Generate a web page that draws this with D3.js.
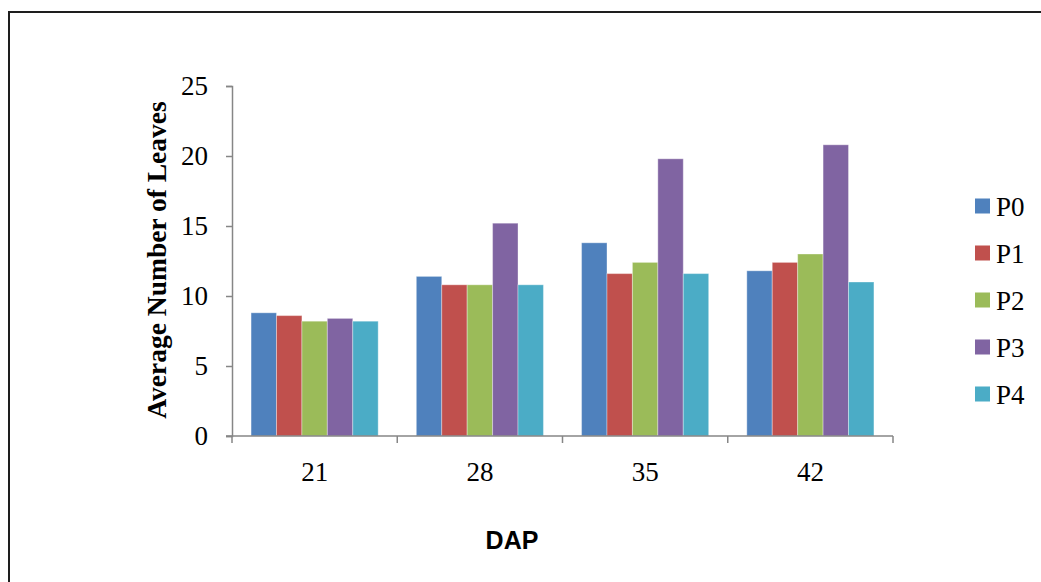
<!DOCTYPE html>
<html>
<head>
<meta charset="utf-8">
<script src="https://cdn.jsdelivr.net/npm/d3@7"></script>
<style>
  html, body { margin: 0; padding: 0; background: #fff; }
  svg { display: block; }
</style>
</head>
<body>
<svg id="chart" width="1041" height="582"></svg>
<script>
// Days after planting (DAP) and average leaf counts per treatment
const categories = ["21", "28", "35", "42"];
const seriesNames = ["P0", "P1", "P2", "P3", "P4"];
const P0 = [8.8, 11.4, 13.8, 11.8];
const P1 = [8.6, 10.8, 11.6, 12.4];
const P2 = [8.2, 10.8, 12.4, 13.0];
const P3 = [8.4, 15.2, 19.8, 20.8];
const P4 = [8.2, 10.8, 11.6, 11.0];
const yTicks = [0, 5, 10, 15, 20, 25];
const colors = ["#4F81BD", "#C0504D", "#9BBB59", "#8064A2", "#4BACC6"];

const seriesValues = [P0, P1, P2, P3, P4];

const svg = d3.select("#chart");
const axisColor = "#868686";
const serif = "'Liberation Serif', 'Times New Roman', serif";

// outer frame
svg.append("rect")
  .attr("x", 9).attr("y", 12)
  .attr("width", 1100).attr("height", 700)
  .attr("fill", "none")
  .attr("stroke", "#1e1e1e")
  .attr("stroke-width", 2);

const plot = { left: 232, right: 893, top: 86, bottom: 436 };

const x0 = d3.scaleBand()
  .domain(categories)
  .range([plot.left, plot.right])
  .paddingInner(0).paddingOuter(0);

const x1 = d3.scaleBand()
  .domain(seriesNames)
  .range([0, x0.bandwidth()])
  .paddingInner(0).paddingOuter(0.75);

const y = d3.scaleLinear().domain([0, 25]).range([plot.bottom, plot.top]);

// bars
const groups = svg.append("g").selectAll("g")
  .data(categories)
  .join("g")
  .attr("transform", d => `translate(${x0(d)},0)`);

groups.selectAll("rect")
  .data((c, i) => seriesNames.map((s, k) => ({ s, v: seriesValues[k][i], k })))
  .join("rect")
  .attr("x", d => x1(d.s))
  .attr("y", d => y(d.v))
  .attr("width", x1.bandwidth())
  .attr("height", d => y(0) - y(d.v))
  .attr("fill", d => colors[d.k])
  .attr("stroke", "#ffffff")
  .attr("stroke-opacity", 0.35)
  .attr("stroke-width", 1);

// y axis
const yAxis = svg.append("g")
  .attr("transform", `translate(${plot.left},0)`)
  .call(d3.axisLeft(y).tickValues(yTicks).tickSize(6).tickPadding(18));
yAxis.select(".domain").attr("stroke", axisColor).attr("stroke-width", 1.5);
yAxis.selectAll(".tick line").attr("stroke", axisColor).attr("stroke-width", 1.5);
yAxis.selectAll(".tick text")
  .attr("font-family", serif)
  .attr("font-size", 27)
  .attr("fill", "#000");

// x axis: labels at category centres, ticks at category boundaries
const xAxis = svg.append("g")
  .attr("transform", `translate(0,${plot.bottom})`)
  .call(d3.axisBottom(x0).tickSize(0).tickPadding(26));
xAxis.select(".domain").remove();
xAxis.selectAll(".tick text")
  .attr("font-family", serif)
  .attr("font-size", 27)
  .attr("fill", "#000");

const boundaries = categories.map(c => x0(c)).concat([x0.range()[1]]);
const xLine = svg.append("g").attr("transform", `translate(0,${plot.bottom})`);
xLine.append("line")
  .attr("x1", plot.left - 6).attr("x2", plot.right)
  .attr("y1", 0).attr("y2", 0)
  .attr("stroke", axisColor).attr("stroke-width", 1.5);
xLine.selectAll("line.bt")
  .data(boundaries)
  .join("line")
  .attr("class", "bt")
  .attr("x1", d => d).attr("x2", d => d)
  .attr("y1", 0).attr("y2", 7)
  .attr("stroke", axisColor).attr("stroke-width", 1.5);

// axis titles
svg.append("text")
  .attr("transform", "translate(166,260) rotate(-90)")
  .attr("text-anchor", "middle")
  .attr("font-family", serif)
  .attr("font-weight", "bold")
  .attr("font-size", 27.5)
  .attr("fill", "#000")
  .text("Average Number of Leaves");

svg.append("text")
  .attr("x", 512).attr("y", 549)
  .attr("text-anchor", "middle")
  .attr("font-family", "'Liberation Sans', Arial, sans-serif")
  .attr("font-weight", "bold")
  .attr("font-size", 25)
  .attr("fill", "#000")
  .text("DAP");

// legend
const legend = svg.append("g").selectAll("g")
  .data(seriesNames)
  .join("g")
  .attr("transform", (d, i) => `translate(975,${206 + i * 47})`);
legend.append("rect")
  .attr("x", 0).attr("y", -7.5)
  .attr("width", 15).attr("height", 15)
  .attr("fill", (d, i) => colors[i]);
legend.append("text")
  .attr("x", 21).attr("y", 10)
  .attr("font-family", serif)
  .attr("font-size", 27)
  .attr("fill", "#000")
  .text(d => d);
</script>
</body>
</html>
